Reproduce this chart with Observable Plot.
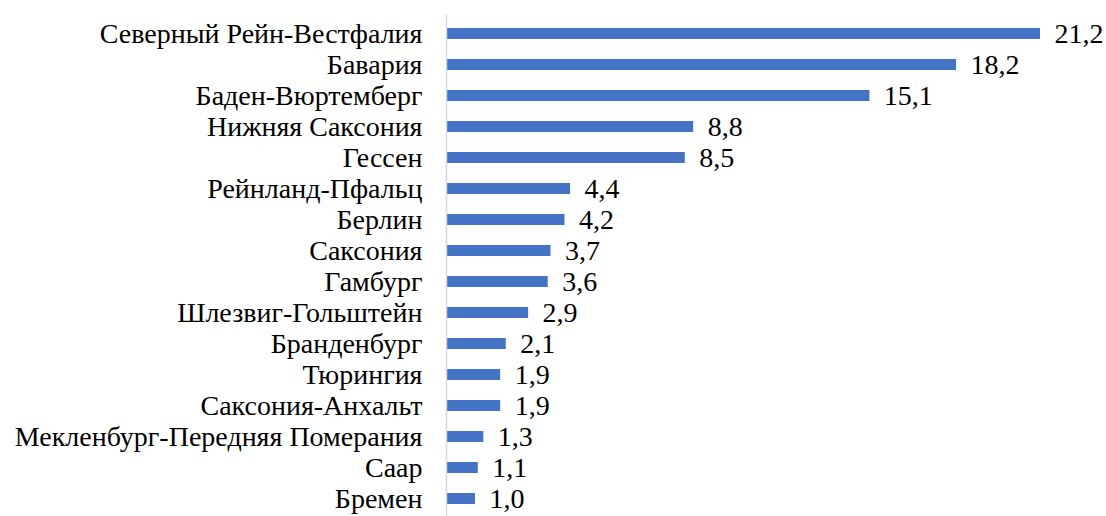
<!DOCTYPE html>
<html><head><meta charset="utf-8">
<script src="https://cdn.jsdelivr.net/npm/d3@7"></script>
<script src="https://cdn.jsdelivr.net/npm/@observablehq/plot@0.6"></script>
<style>html,body{margin:0;padding:0;background:#fff;}</style>
</head><body>
<div id="chart"></div>
<script>
const regions = ["Северный Рейн-Вестфалия","Бавария","Баден-Вюртемберг","Нижняя Саксония","Гессен","Рейнланд-Пфальц","Берлин","Саксония","Гамбург","Шлезвиг-Гольштейн","Бранденбург","Тюрингия","Саксония-Анхальт","Мекленбург-Передняя Померания","Саар","Бремен"];
const values = [21.2,18.2,15.1,8.8,8.5,4.4,4.2,3.7,3.6,2.9,2.1,1.9,1.9,1.3,1.1,1.0];
const data = regions.map((r,i)=>({region:r, value:values[i]}));
const fmt = v => v.toFixed(1).replace(".", ",");
const FONT = "Liberation Serif";
const chart = Plot.plot({
  width: 1106, height: 516,
  marginLeft: 447, marginRight: 66, marginTop: 15, marginBottom: 0,
  x: {domain: [0, 21.2], axis: null},
  y: {domain: regions, paddingInner: 0.65, paddingOuter: 0.325, axis: null},
  marks: [
    Plot.barX(data, {x: "value", y: "region", fill: "#4472C4"}),
    Plot.ruleX([0], {stroke: "#d9d9d9", strokeWidth: 1.5, dx: -1}),
    Plot.text(regions, {x: 0, y: d => d, text: d => d, dx: -25, textAnchor: "end", fill: "#000", fontSize: 28, fontFamily: FONT}),
    Plot.text(data, {x: "value", y: "region", text: d => fmt(d.value), dx: 14, textAnchor: "start", fill: "#000", fontSize: 28, fontFamily: FONT})
  ]
});
chart.setAttribute("font-family", FONT);
d3.select(chart).selectAll("text, tspan").each(function() {
  this.setAttribute("font-family", FONT);
  this.style.setProperty("font-family", FONT, "important");
});
document.getElementById("chart").appendChild(chart);
</script>
</body></html>
